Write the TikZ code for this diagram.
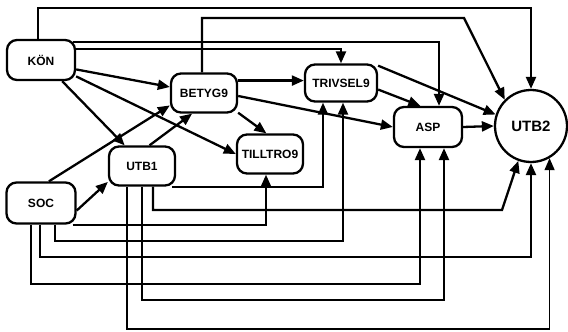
\documentclass[tikz,border=0pt]{standalone}
\usepackage{fontspec}
\setmainfont{Liberation Sans}
\usepackage{tikz}
\usetikzlibrary{arrows.meta}

\begin{document}
\begin{tikzpicture}[x=1pt,y=-1pt,
  box/.style={draw,line width=2.3pt,rounded corners=10pt,inner sep=0pt,
    minimum width=66pt,minimum height=39pt,font=\bfseries\fontsize{12}{14}\selectfont},
  arr/.style={line width=2.3pt,-{Triangle[length=12pt,width=10pt]}},
  thinarr/.style={arr,line width=1.4pt}]
\useasboundingbox (0,0) rectangle (568,332);
\node[box,minimum width=68pt,minimum height=40pt] (KON) at (41,60) {KÖN};
\node[box,minimum width=69pt,minimum height=41pt] (SOC) at (41,203) {SOC};
\node[box] (BETYG9) at (204,93) {BETYG9};
\node[box] (UTB1) at (142,166) {UTB1};
\node[box] (TILLTRO9) at (270,154) {TILLTRO9};
\node[box,minimum width=72pt,minimum height=37pt] (TRIVSEL9) at (341,83) {TRIVSEL9};
\node[box,minimum width=68pt,minimum height=40pt] (ASP) at (428,127) {ASP};
\node[draw,circle,line width=2.3pt,minimum size=72pt,inner sep=0pt,
  font=\bfseries\fontsize{15}{17}\selectfont] (UTB2) at (531,126) {UTB2};

\draw[arr] (38,0 |- KON.north) |- (UTB2.north |- 0,8) -- (UTB2.north);
\draw[arr] (202,0 |- BETYG9.north) |- (464,18) -- (UTB2.north west);
\draw[arr] ([xshift=-3pt]KON.east |- 0,42) -| (439,0 |- ASP.north);
\draw[arr] ([xshift=-1pt]KON.east |- 0,49) -| (TRIVSEL9.north);
\draw[arr] (KON.-15) -- (BETYG9.170);
\draw[arr] (KON.-25) -- (TILLTRO9.west);
\draw[arr] (KON.-45) -- (UTB1.130);
\draw[arr] (SOC.70) -- (BETYG9.200);
\draw[arr] (UTB1.70) -- (BETYG9.-120);
\draw[arr] (SOC.-12) -- (UTB1.205);
\draw[arr] (BETYG9.20) -- (BETYG9.20 -| TRIVSEL9.west);
\draw[arr] (BETYG9.-5) -- (ASP.west);
\draw[arr] (BETYG9.-30) -- (TILLTRO9.100);
\draw[arr] (TRIVSEL9.-10) -- (ASP.110);
\draw[arr] (TRIVSEL9.25) -- (UTB2.162);
\draw[arr] (ASP.east) -- (UTB2.west);

\draw[arr] ([xshift=-4pt]UTB1.south east) -| (323,0 |- TRIVSEL9.south);
\draw[arr] ([xshift=-4pt]SOC.south east) -| (266,0 |- TILLTRO9.south);
\draw[arr] (153,0 |- UTB1.south) |- (502,210) -- (UTB2.-110);
\draw[arr] (55,0 |- SOC.south) |- (343,241) -- (343,0 |- TRIVSEL9.south);
\draw[arr] (40,0 |- SOC.south) |- (UTB2.south |- 0,257) -- (UTB2.south);
\draw[arr] (31,0 |- SOC.south) |- (420,284) -- (420,0 |- ASP.south);
\draw[arr] (142,0 |- UTB1.south) |- (444,300) -- (444,0 |- ASP.south);
\draw[thinarr] (127,0 |- UTB1.south) |- (UTB2.-60 |- 0,329) -- (UTB2.-60);
\end{tikzpicture}
\end{document}
